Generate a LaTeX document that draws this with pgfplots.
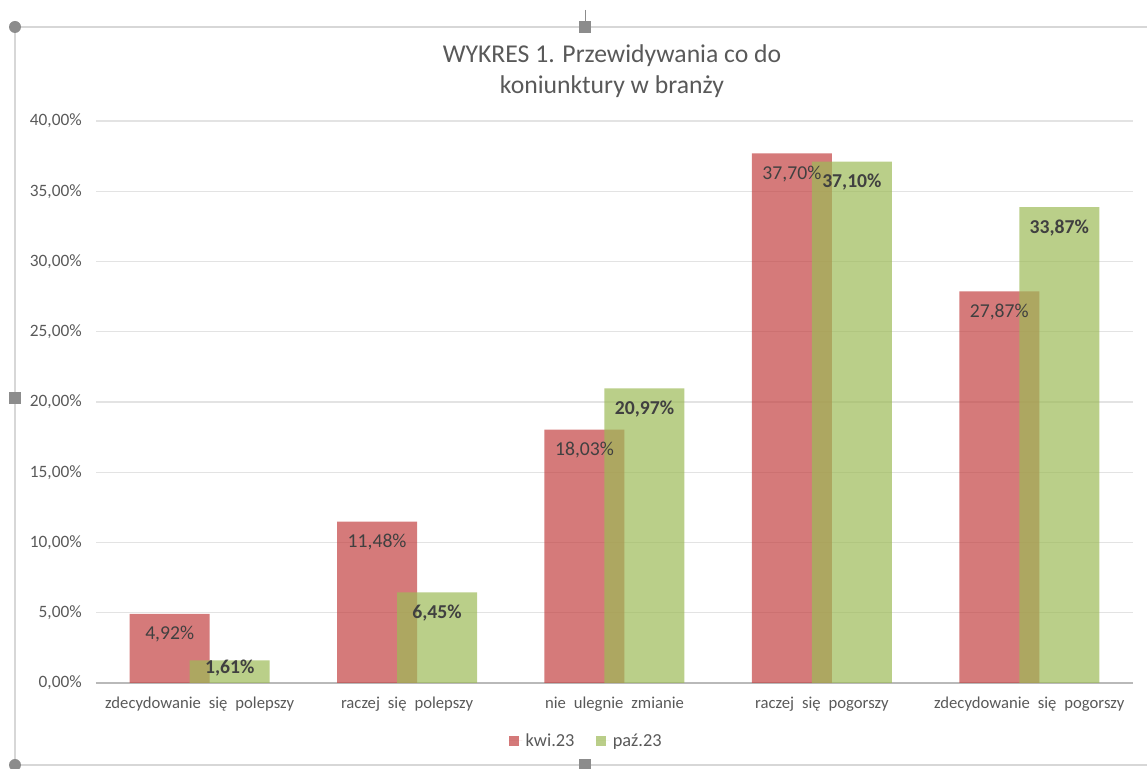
\documentclass[border=0pt]{standalone}
\usepackage{pgfplots}
\pgfplotsset{compat=1.18}
\usepackage{fontspec}
\setmainfont{Carlito}
\definecolor{redbar}{RGB}{195,65,65}
\definecolor{greenbar}{RGB}{157,186,87}
\definecolor{txtgrey}{RGB}{89,89,89}
\definecolor{lblgrey}{RGB}{64,64,64}
\definecolor{handle}{RGB}{140,140,140}
\definecolor{frameg}{RGB}{215,215,215}
\pgfplotstableread{
x val dy
0 4.92 -4
1 11.48 -4
2 18.03 -4
3 37.70 -4
4 27.87 -4
}\kwi
\pgfplotstableread{
x val dy
0 1.61 3.6
1 6.45 -4
2 20.97 -4
3 37.10 -4
4 33.87 -4
}\paz
\begin{document}
\begin{tikzpicture}[x=0.6pt,y=0.6pt]
\path[use as bounding box] (0,0) rectangle (1147,769);
% frame and selection handles
\draw[frameg, line width=1pt] (1147,742) -- (15,742) -- (15,4) -- (1147,4);
\draw[handle, line width=0.6pt] (585,759) -- (585,742);
\fill[handle] (15,742) circle (6);
\fill[handle] (15,4) circle (6);
\fill[handle] (579,736) rectangle (591,748);
\fill[handle] (579,-2) rectangle (591,10);
\fill[handle] (9,365) rectangle (21,377);
\node[font=\fontsize{15.4}{18.6}\selectfont, text=txtgrey, align=center] at (612,698) {WYKRES 1. Przewidywania co do\\koniunktury w branży};
\begin{axis}[
  at={(57.6pt,51.6pt)}, anchor=south west,
  scale only axis, width=622.2pt, height=337.2pt,
  xmin=-0.5, xmax=4.5, ymin=0, ymax=40,
  ybar, bar width=48pt,
  /pgf/number format/assume math mode=true,
  ytick={0,5,...,40},
  yticklabel={\pgfmathprintnumber[fixed,fixed zerofill,precision=2,use comma]{\tick}\%},
  yticklabel style={font=\fontsize{10.4}{12}\selectfont, text=txtgrey, xshift=-5pt},
  xtick={0,1,2,3,4},
  xticklabels={zdecydowanie\hspace{0.25em} się\hspace{0.25em} polepszy, raczej\hspace{0.25em} się\hspace{0.25em} polepszy, nie\hspace{0.25em} ulegnie\hspace{0.25em} zmianie, raczej\hspace{0.25em} się\hspace{0.25em} pogorszy, zdecydowanie\hspace{0.25em} się\hspace{0.25em} pogorszy},
  xticklabel style={font=\fontsize{10}{12}\selectfont, text=txtgrey, yshift=-5pt},
  major tick length=0pt,
  separate axis lines,
  axis x line*=bottom, axis y line*=left,
  x axis line style={draw=gray!55, line width=1pt, -},
  y axis line style={draw=none},
  ymajorgrids, grid style={draw=gray!22, line width=0.7pt},
  legend style={at={(0.4735,-0.1032)}, anchor=center, draw=none, legend columns=2,
    font=\fontsize{11}{12}\selectfont, text=txtgrey,
    /tikz/every even column/.append style={column sep=11pt}},
  legend image code/.code={\fill[#1] (0pt,-3pt) rectangle (6pt,3pt); \path (0pt,0pt) -- (8pt,0pt);},
  visualization depends on={\thisrow{dy} \as \dy},
  nodes near coords={\pgfmathprintnumber[fixed,fixed zerofill,precision=2,use comma]{\pgfplotspointmeta}\%},
  every node near coord/.append style={anchor=north, yshift=\dy pt},
]
\addplot[draw=none, fill=redbar, fill opacity=0.7, bar shift=-18pt,
  every node near coord/.append style={text=lblgrey, text opacity=1, font=\fontsize{11.8}{13}\selectfont}]
  table[x=x,y=val] {\kwi};
\addlegendentry{kwi.23}
\addplot[draw=none, fill=greenbar, fill opacity=0.7, bar shift=18pt,
  every node near coord/.append style={text=lblgrey, text opacity=1, font=\fontsize{11.8}{13}\selectfont\bfseries}]
  table[x=x,y=val] {\paz};
\addlegendentry{paź.23}
\end{axis}
\end{tikzpicture}
\end{document}
